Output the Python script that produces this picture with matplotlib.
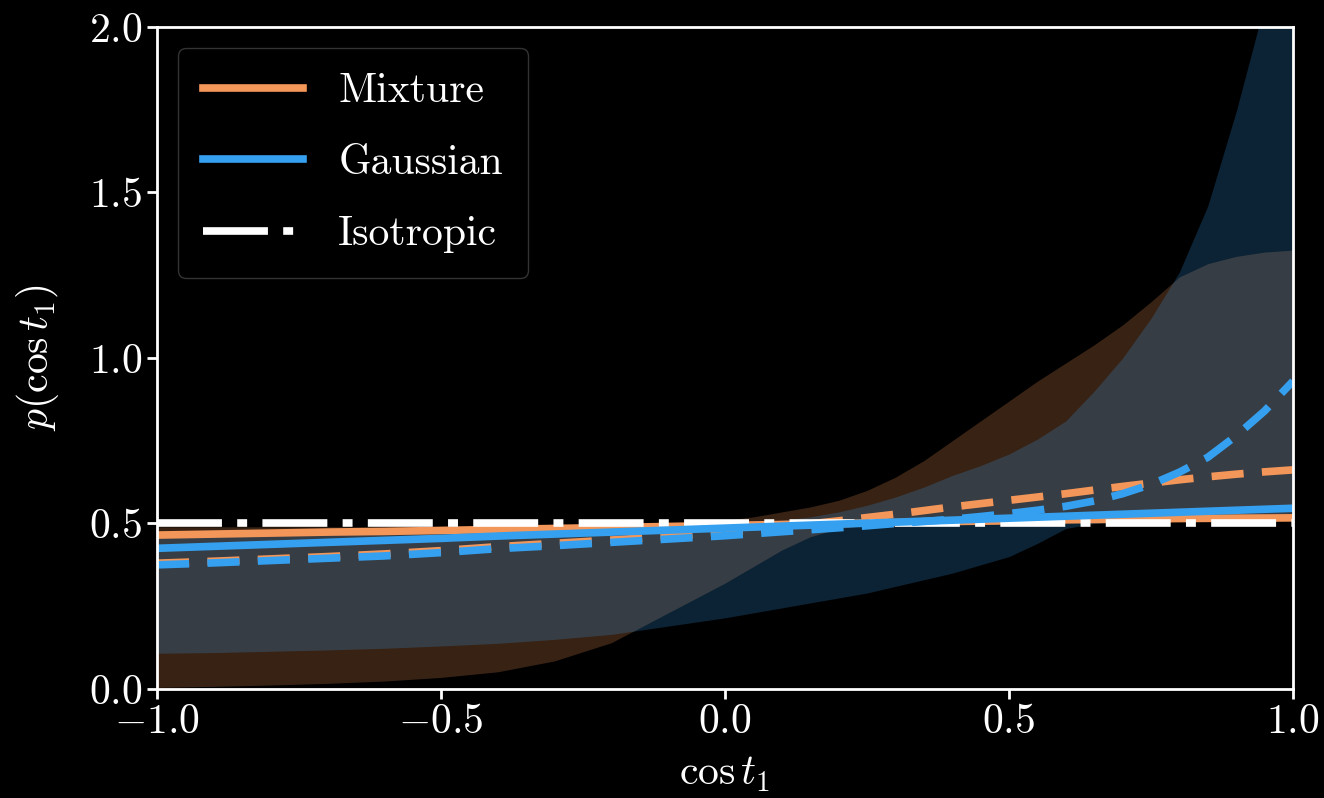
import numpy as np
import matplotlib
matplotlib.use("Agg")
import matplotlib.pyplot as plt

plt.rcParams['font.family'] = 'serif'
plt.rcParams['font.serif'] = ['cmr10', 'DejaVu Serif']
plt.rcParams['mathtext.fontset'] = 'cm'
plt.rcParams['axes.formatter.use_mathtext'] = True

# cos t_1 grid (0.1 steps on the left, 0.05 steps on the right) and curves
cost = [-1.0, -0.9, -0.8, -0.7, -0.6, -0.5, -0.4, -0.3, -0.2, -0.1, 0.0,
        0.05, 0.1, 0.15, 0.2, 0.25, 0.3, 0.35, 0.4, 0.45, 0.5,
        0.55, 0.6, 0.65, 0.7, 0.75, 0.8, 0.85, 0.9, 0.95, 1.0]

mix_median = [0.465, 0.468, 0.471, 0.474, 0.476, 0.479, 0.482, 0.485, 0.488, 0.491, 0.494,
              0.4955, 0.497, 0.4985, 0.500, 0.5015, 0.503, 0.5045, 0.506, 0.507, 0.508,
              0.5095, 0.511, 0.512, 0.513, 0.514, 0.515, 0.5155, 0.516, 0.5165, 0.517]
mix_mean = [0.380, 0.386, 0.393, 0.400, 0.408, 0.418, 0.430, 0.440, 0.450, 0.461, 0.472,
            0.481, 0.490, 0.499, 0.508, 0.518, 0.528, 0.539, 0.550, 0.560, 0.570,
            0.580, 0.590, 0.601, 0.612, 0.622, 0.632, 0.641, 0.649, 0.656, 0.662]
mix_lo = [0.005, 0.008, 0.012, 0.017, 0.024, 0.035, 0.052, 0.085, 0.140, 0.230, 0.320,
          0.370, 0.420, 0.460, 0.485, 0.495, 0.500, 0.503, 0.505, 0.507, 0.508,
          0.509, 0.510, 0.511, 0.512, 0.513, 0.513, 0.514, 0.514, 0.515, 0.515]
mix_hi = [0.490, 0.490, 0.490, 0.490, 0.490, 0.490, 0.490, 0.492, 0.495, 0.500, 0.510,
          0.520, 0.535, 0.550, 0.570, 0.600, 0.640, 0.690, 0.750, 0.810, 0.870,
          0.930, 0.985, 1.040, 1.100, 1.170, 1.245, 1.285, 1.307, 1.320, 1.326]

gau_median = [0.425, 0.431, 0.437, 0.443, 0.449, 0.455, 0.462, 0.468, 0.474, 0.480, 0.486,
              0.489, 0.492, 0.495, 0.498, 0.501, 0.504, 0.507, 0.510, 0.513, 0.516,
              0.519, 0.522, 0.525, 0.528, 0.531, 0.534, 0.537, 0.540, 0.543, 0.546]
gau_mean = [0.375, 0.381, 0.388, 0.395, 0.402, 0.412, 0.424, 0.433, 0.443, 0.453, 0.463,
            0.469, 0.475, 0.481, 0.487, 0.493, 0.500, 0.506, 0.513, 0.521, 0.530,
            0.540, 0.552, 0.568, 0.590, 0.618, 0.655, 0.700, 0.765, 0.840, 0.930]
gau_lo = [0.108, 0.110, 0.114, 0.118, 0.123, 0.130, 0.138, 0.150, 0.165, 0.190, 0.215,
          0.230, 0.245, 0.260, 0.275, 0.290, 0.310, 0.330, 0.350, 0.375, 0.400,
          0.440, 0.485, 0.500, 0.505, 0.510, 0.513, 0.516, 0.520, 0.525, 0.530]
gau_hi = [0.470, 0.470, 0.471, 0.472, 0.474, 0.476, 0.478, 0.481, 0.485, 0.490, 0.495,
          0.500, 0.510, 0.520, 0.535, 0.555, 0.580, 0.610, 0.645, 0.675, 0.710,
          0.755, 0.810, 0.900, 1.000, 1.120, 1.260, 1.460, 1.745, 2.070, 2.500]

iso = [0.5] * len(cost)

orange = '#f39659'
blue = '#35a0f0'
fs = 30

fig = plt.figure(figsize=(13.24, 7.98), dpi=100, facecolor='black')
ax = fig.add_axes([0.1186, 0.1366, 0.858, 0.8296])
ax.set_facecolor('black')

ax.fill_between(cost, mix_lo, mix_hi, color=orange, alpha=0.23, lw=0)
ax.fill_between(cost, gau_lo, gau_hi, color=blue, alpha=0.22, lw=0)

lw = 5.5
ax.plot(cost, mix_mean, color=orange, lw=lw, dashes=(4.2, 2.4))
ax.plot(cost, mix_median, color=orange, lw=lw, label='Mixture')
ax.plot(cost, iso, color='white', lw=lw, dashes=(8.5, 2.0, 1.3, 2.0), label='Isotropic')
ax.plot(cost, gau_mean, color=blue, lw=lw, dashes=(4.2, 2.4))
ax.plot(cost, gau_median, color=blue, lw=lw, label='Gaussian')

ax.set_xlim(-1, 1)
ax.set_ylim(0, 2)
ax.set_xticks([-1.0, -0.5, 0.0, 0.5, 1.0])
ax.set_yticks([0.0, 0.5, 1.0, 1.5, 2.0])
ax.xaxis.set_major_formatter(matplotlib.ticker.FormatStrFormatter('$%.1f$'))
ax.yaxis.set_major_formatter(matplotlib.ticker.FormatStrFormatter('$%.1f$'))
ax.set_xlabel(r'$\cos t_1$', color='white', fontsize=fs, labelpad=10)
ax.set_ylabel(r'$p(\cos t_1)$', color='white', fontsize=fs, labelpad=20)
ax.tick_params(colors='white', labelsize=fs, width=2, length=7, direction='out')
for s in ax.spines.values():
    s.set_color('white')
    s.set_linewidth(2)

handles, labels = ax.get_legend_handles_labels()
order = [labels.index('Mixture'), labels.index('Gaussian'), labels.index('Isotropic')]
leg = ax.legend([handles[i] for i in order], [labels[i] for i in order],
                loc='upper left', fontsize=fs, frameon=True, facecolor='black',
                edgecolor='#333333', framealpha=1, handlelength=2.4,
                handletextpad=0.85, labelspacing=0.82, borderpad=0.6,
                borderaxespad=0.5)
for t in leg.get_texts():
    t.set_color('white')

fig.savefig('out.png', dpi=100, facecolor='black')
